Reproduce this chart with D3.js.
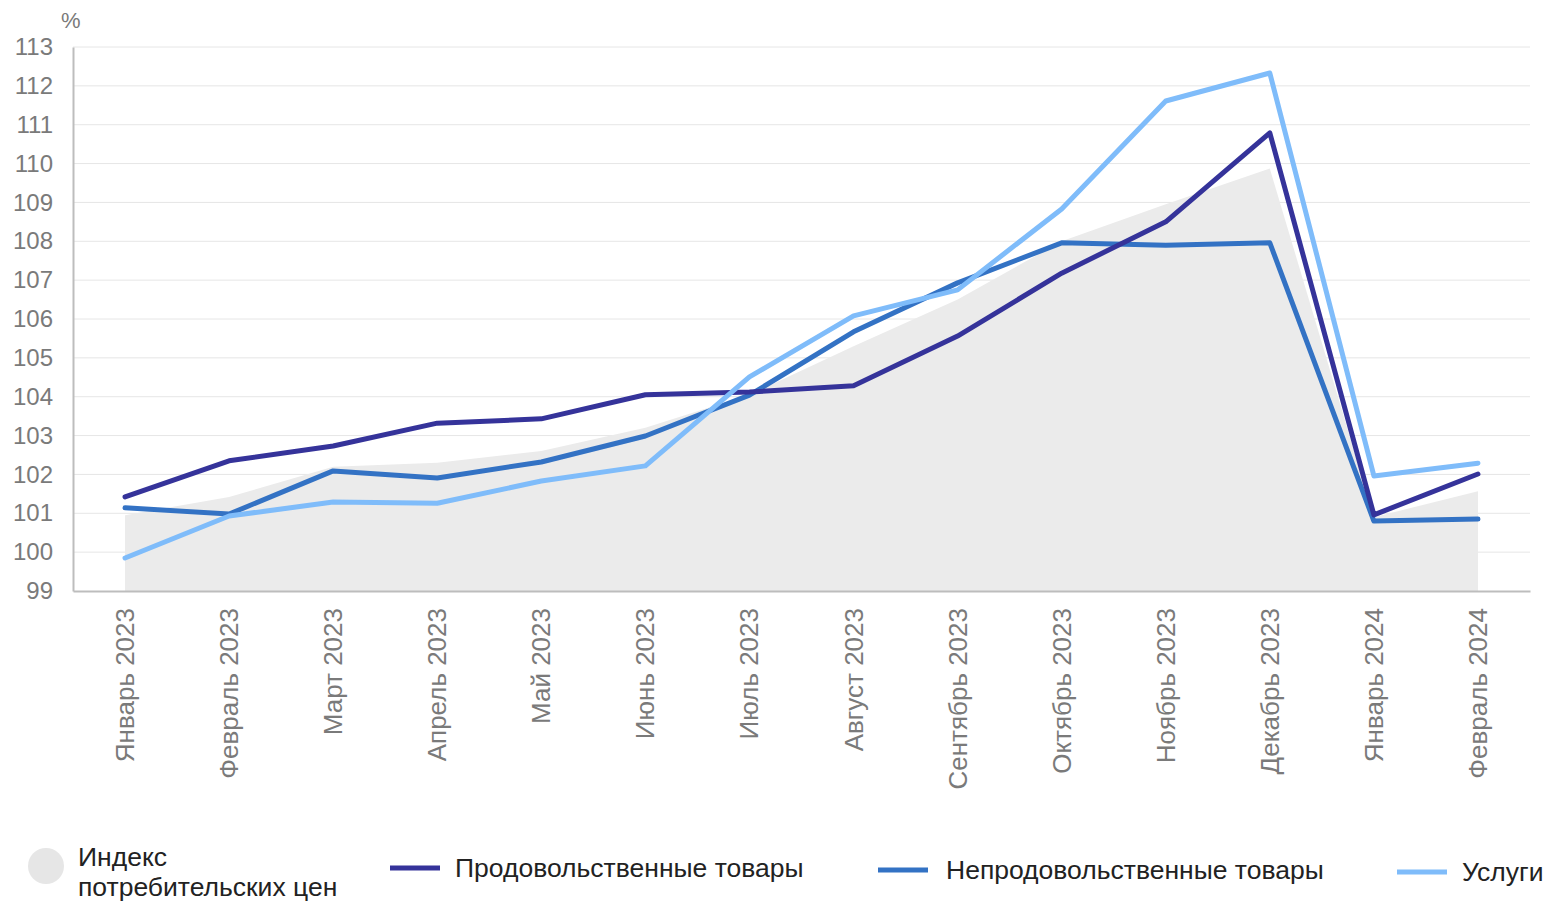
<!DOCTYPE html>
<html>
<head>
<meta charset="utf-8">
<script src="https://cdn.jsdelivr.net/npm/d3@7"></script>
<style>
  body { margin: 0; background: #fff; font-family: "Liberation Sans", Arial, sans-serif; }
</style>
</head>
<body>
<div id="chart"></div>
<script>
// months on the x axis
var months = ["Январь 2023", "Февраль 2023", "Март 2023", "Апрель 2023", "Май 2023", "Июнь 2023",
  "Июль 2023", "Август 2023", "Сентябрь 2023", "Октябрь 2023", "Ноябрь 2023", "Декабрь 2023",
  "Январь 2024", "Февраль 2024"];

// consumer price index (area)
var cpi = [100.95, 101.42, 102.2, 102.3, 102.6, 103.2, 104.05, 105.3, 106.5, 108.0, 108.95, 109.87, 100.9, 101.57];
// food
var food = [101.42, 102.35, 102.73, 103.32, 103.43, 104.05, 104.12, 104.28, 105.56, 107.18, 108.5, 110.79, 100.96, 102.01];
// non-food
var nonFood = [101.14, 100.98, 102.09, 101.91, 102.32, 102.99, 104.04, 105.67, 106.93, 107.96, 107.9, 107.96, 100.8, 100.85];
// services
var services = [99.85, 100.93, 101.29, 101.26, 101.83, 102.22, 104.51, 106.08, 106.75, 108.83, 111.61, 112.33, 101.96, 102.29];

var yTicks = d3.range(99, 114);

var W = 1548, H = 903;
var margin = {top: 47, right: 18, bottom: 312, left: 73},
    width = W - margin.left - margin.right,
    height = H - margin.top - margin.bottom;

var svg = d3.select("#chart")
  .append("svg")
    .attr("width", W)
    .attr("height", H)
    .style("font-family", "'Liberation Sans', Arial, sans-serif");

var g = svg.append("g")
    .attr("transform", "translate(" + margin.left + "," + margin.top + ")");

var x = d3.scaleBand()
    .domain(months)
    .range([0, width]);

var y = d3.scaleLinear()
    .domain([99, 113])
    .range([height, 0]);

function cx(i) { return x(months[i]) + x.bandwidth() / 2; }

// gridlines
g.append("g")
    .selectAll("line")
    .data(yTicks.slice(1))
    .enter()
    .append("line")
      .attr("x1", 0)
      .attr("x2", width)
      .attr("y1", function(d) { return y(d); })
      .attr("y2", function(d) { return y(d); })
      .attr("stroke", "#e6e6e6")
      .attr("stroke-width", 1);

// CPI area
var area = d3.area()
    .x(function(d, i) { return cx(i); })
    .y0(height)
    .y1(function(d) { return y(d); });

g.append("path")
    .datum(cpi)
    .attr("d", area)
    .attr("fill", "#ebebeb");

// axes
var yAxis = g.append("g")
    .call(d3.axisLeft(y).tickValues(yTicks).tickSize(0).tickPadding(20).tickFormat(d3.format("d")));
yAxis.attr("font-family", null).attr("font-size", null);
yAxis.select(".domain").attr("stroke", "#bdbdbd").attr("stroke-width", 2);
yAxis.selectAll("text")
    .attr("font-size", 24)
    .attr("fill", "#7a7a7a");

var xAxis = g.append("g")
    .attr("transform", "translate(0," + height + ")")
    .call(d3.axisBottom(x).tickSize(0).tickPadding(0));
xAxis.attr("font-family", null).attr("font-size", null);
xAxis.select(".domain").attr("stroke", "#bdbdbd").attr("stroke-width", 2);
xAxis.selectAll("text")
    .attr("font-size", 26)
    .attr("fill", "#7a7a7a")
    .attr("text-anchor", "end")
    .attr("dy", null)
    .attr("transform", "translate(9,17) rotate(-90)");

// % label
svg.append("text")
    .attr("x", 61)
    .attr("y", 28)
    .attr("font-size", 22)
    .attr("fill", "#7a7a7a")
    .text("%");

// lines
var line = d3.line()
    .x(function(d, i) { return cx(i); })
    .y(function(d) { return y(d); });

var series = [
  {name: "Продовольственные товары", values: food, color: "#35339a"},
  {name: "Непродовольственные товары", values: nonFood, color: "#3372c4"},
  {name: "Услуги", values: services, color: "#7fbcfa"}
];

// draw in order: non-food, food, services (services on top)
[series[1], series[0], series[2]].forEach(function(s) {
  g.append("path")
      .datum(s.values)
      .attr("d", line)
      .attr("fill", "none")
      .attr("stroke", s.color)
      .attr("stroke-width", 5)
      .attr("stroke-linejoin", "round")
      .attr("stroke-linecap", "round");
});

// legend
var legend = svg.append("g").attr("font-size", 26.5).attr("fill", "#222");

legend.append("circle")
    .attr("cx", 46)
    .attr("cy", 866)
    .attr("r", 18)
    .attr("fill", "#e6e6e6");
legend.append("text").attr("x", 78).attr("y", 866).text("Индекс");
legend.append("text").attr("x", 78).attr("y", 896).text("потребительских цен");

var legendPos = [{lx: 390, tx: 455, y: 868}, {lx: 878, tx: 946, y: 870}, {lx: 1397, tx: 1462, y: 872}];
series.forEach(function(s, i) {
  var p = legendPos[i];
  legend.append("line")
      .attr("x1", p.lx)
      .attr("x2", p.lx + 50)
      .attr("y1", p.y)
      .attr("y2", p.y)
      .attr("stroke", s.color)
      .attr("stroke-width", 5);
  legend.append("text")
      .attr("x", p.tx)
      .attr("y", p.y + 9)
      .text(s.name);
});
</script>
</body>
</html>
